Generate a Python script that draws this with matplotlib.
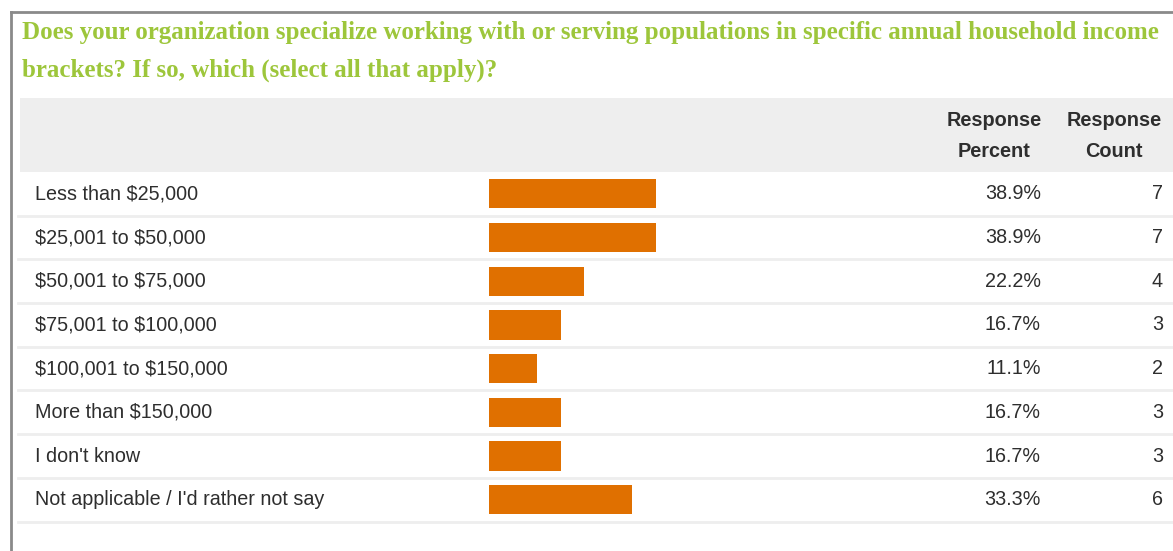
import matplotlib.pyplot as plt
from matplotlib.patches import Rectangle
from matplotlib.transforms import blended_transform_factory

title_lines = [
    "Does your organization specialize working with or serving populations in specific annual household income",
    "brackets? If so, which (select all that apply)?",
]
categories = [
    "Less than $25,000",
    "$25,001 to $50,000",
    "$50,001 to $75,000",
    "$75,001 to $100,000",
    "$100,001 to $150,000",
    "More than $150,000",
    "I don't know",
    "Not applicable / I'd rather not say",
]
percents = [38.9, 38.9, 22.2, 16.7, 11.1, 16.7, 16.7, 33.3]
counts = [7, 7, 4, 3, 2, 3, 3, 6]

W, H = 1173, 551
GREEN = "#9dc63b"
ORANGE = "#e07000"
TEXT = "#2e2e2e"

plt.rcParams["font.family"] = ["Liberation Sans", "DejaVu Sans"]
plt.rcParams["text.parse_math"] = False

fig = plt.figure(figsize=(W / 100, H / 100), dpi=100)
fig.patch.set_facecolor("white")

# pixel overlay for frame, header band
bg = fig.add_axes([0, 0, 1, 1])
bg.set_xlim(0, W)
bg.set_ylim(H, 0)
bg.axis("off")
bg.plot([11, W], [12, 12], color="#8a8a8a", lw=2)
bg.plot([11, 11], [12, H], color="#8a8a8a", lw=2)
bg.add_patch(Rectangle((20, 98), W - 20, 74, color="#eeeeee", lw=0))
for k, line in enumerate(title_lines):
    bg.text(22, 33 + 37 * k, line, color=GREEN, fontsize=18, fontweight="bold",
            family="Liberation Serif", va="center", ha="left")
bg.text(994, 136, "Response\nPercent", color=TEXT, fontsize=14.3, fontweight="bold",
        ha="center", va="center", linespacing=1.75)
bg.text(1114, 136, "Response\nCount", color=TEXT, fontsize=14.3, fontweight="bold",
        ha="center", va="center", linespacing=1.75)

# bar axes: rows at 193.8 + 43.7*i px, 100% spans 429 px
pitch = 43.7
top = 193.8 - pitch / 2
bottom = 193.8 + 7.5 * pitch
ax = fig.add_axes([489 / W, 1 - bottom / H, 429 / W, (bottom - top) / H])
ax.set_xlim(0, 100)
n = len(categories)
ax.set_ylim(n - 0.5, -0.5)
ax.axis("off")
ax.barh(range(n), percents, height=0.67, color=ORANGE, edgecolor="none")

trans = blended_transform_factory(bg.transData, ax.transData)
for i, (cat, p, c) in enumerate(zip(categories, percents, counts)):
    ax.text(35, i, cat, transform=trans, ha="left", va="center", fontsize=14.2, color=TEXT)
    ax.text(1041, i, f"{p:.1f}%", transform=trans, ha="right", va="center", fontsize=14.2, color=TEXT)
    ax.text(1163, i, str(c), transform=trans, ha="right", va="center", fontsize=14.2, color=TEXT)
    ax.plot([18, W], [i + 0.5, i + 0.5], transform=trans, color="#eeeeee", lw=2, clip_on=False)

fig.savefig("out.png", dpi=100)
